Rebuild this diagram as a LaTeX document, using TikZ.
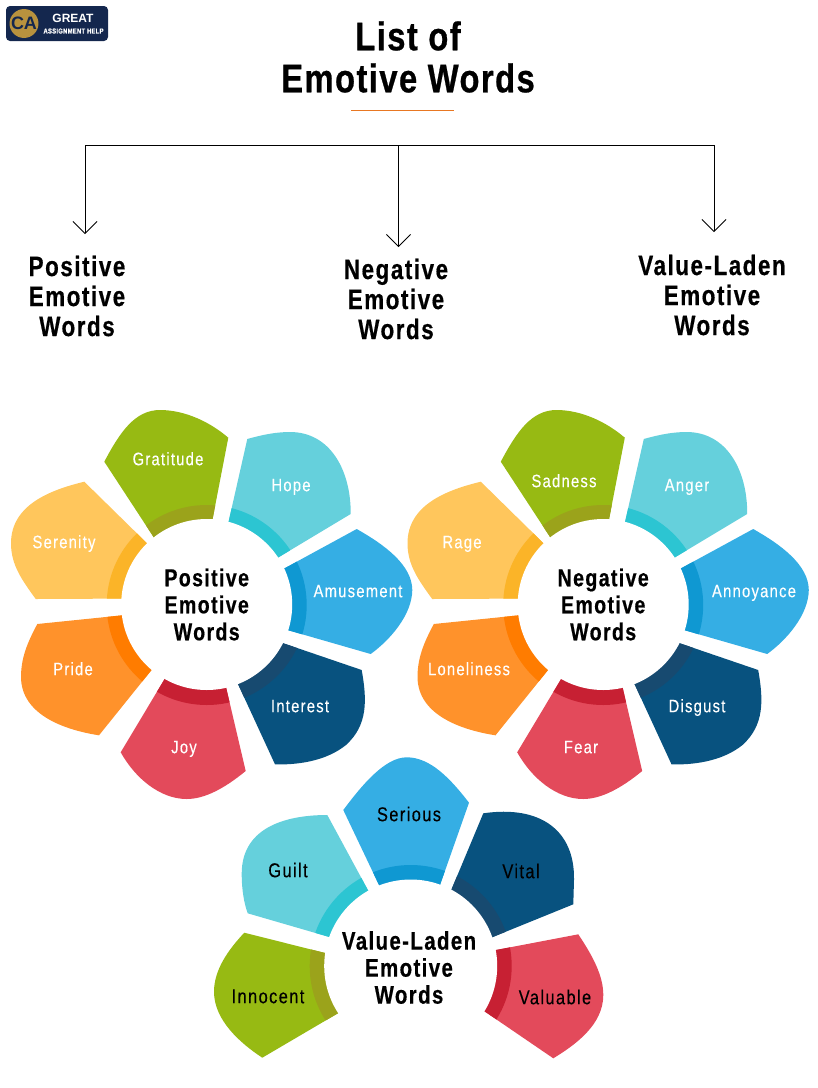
\documentclass[tikz,border=0pt]{standalone}
\usepackage{fontspec}
\usetikzlibrary{arrows.meta, positioning}
\setmainfont{Liberation Sans}
\newfontfamily\titlefont[FakeStretch=0.82,LetterSpace=3.5,FakeBold=0.6]{Liberation Sans Bold}
\newfontfamily\headfont[FakeStretch=0.8,LetterSpace=5.5,FakeBold=0.5]{Liberation Sans Bold}
\newfontfamily\wordfont[FakeStretch=0.82,LetterSpace=7,FakeBold=0.25]{Liberation Sans}
\definecolor{petalgreen}{HTML}{97BA13}
\definecolor{bandgreen}{HTML}{9BA31B}
\definecolor{petalcyan}{HTML}{65D0DC}
\definecolor{bandcyan}{HTML}{2CC5D2}
\definecolor{petalblue}{HTML}{35AEE4}
\definecolor{bandblue}{HTML}{0F98D2}
\definecolor{petalnavy}{HTML}{08527F}
\definecolor{bandnavy}{HTML}{174A70}
\definecolor{petalred}{HTML}{E34A5B}
\definecolor{bandred}{HTML}{C72033}
\definecolor{petalorange}{HTML}{FF922B}
\definecolor{bandorange}{HTML}{FF7C00}
\definecolor{petalyellow}{HTML}{FFC65C}
\definecolor{bandyellow}{HTML}{FBB428}
\definecolor{logonavy}{HTML}{14274E}
\definecolor{logogold}{HTML}{B8923E}
\definecolor{ruleorange}{HTML}{E87722}
% one petal: hub, fill colour, band colour, band radius, outline
\newcommand\petal[5]{%
  \fill[#2] #5;
  \begin{scope}
    \clip #5;
    \fill[#3] (#1) circle (#4pt);
  \end{scope}}
% the seven petals shared by the two upper flowers
\newcommand\sevenpetals[1]{%
  \begin{scope}[xshift=#1pt]
    \coordinate (hub) at (206.7,605);
    \petal{hub}{petalgreen}{bandgreen}{100}{(104.3,461.7) .. controls (120,432) and (135,410) .. (160,410) .. controls (185,410) and (210,422) .. (228.3,437.7) -- (207,548) -- (166,556) -- cycle}
    \petal{hub}{petalcyan}{bandcyan}{100}{(247.3,439) .. controls (265,434) and (278,432) .. (290,432) .. controls (330,432) and (351,470) .. (350.7,514) -- (264,566) -- (224,542) -- cycle}
    \petal{hub}{petalblue}{bandblue}{100}{(356.7,529) .. controls (385,545) and (412,565) .. (412.3,590) .. controls (412,615) and (390,640) .. (370.7,654) -- (270,625) -- (265,579) -- cycle}
    \petal{hub}{petalnavy}{bandnavy}{100}{(361.7,670) .. controls (367,700) and (368,725) .. (346,745) .. controls (325,762) and (295,765) .. (275,764.3) -- (232,671) -- (262,636) -- cycle}
    \petal{hub}{petalred}{bandred}{100}{(245.7,771) .. controls (225,788) and (205,799) .. (186.7,799) .. controls (160,799) and (135,778) .. (120.7,752.3) -- (176,660) -- (222,670) -- cycle}
    \petal{hub}{petalorange}{bandorange}{100}{(99,735.3) .. controls (65,730) and (21,715) .. (21,676.7) .. controls (21,655) and (30,638) .. (37.3,624) -- (145,613) -- (166,652) -- cycle}
    \petal{hub}{petalyellow}{bandyellow}{100}{(35.7,599) .. controls (22,580) and (11,565) .. (11,543.3) .. controls (11,505) and (50,490) .. (84.3,481.7) -- (160,556) -- (145,598.5) -- cycle}
  \end{scope}}

\begin{document}
\begin{tikzpicture}[
    x=1pt, y=-1pt,
    >={Straight Barb[length=12pt,width=24pt]},
    title/.style={align=center, font=\titlefont\fontsize{40}{42}\selectfont},
    heading/.style={align=center, font=\headfont\fontsize{28}{30}\selectfont},
    hubnode/.style={circle, fill=white, minimum size=171pt, inner sep=0pt, align=center, font=\headfont\fontsize{24.5}{27}\selectfont},
    word/.style={font=\wordfont\fontsize{18}{20}\selectfont, text=white, inner sep=0pt, text height=12.4pt, text depth=0pt},
    darkword/.style={word, font=\wordfont\fontsize{20}{22}\selectfont, text=black},
    link/.style={draw=black, line width=0.8pt}
]
\useasboundingbox (0,0) rectangle (818,1088);

% --- Logo ---
\node [fill=logonavy, rounded corners=4pt, minimum width=102pt, minimum height=35pt, inner sep=0pt] (logo) at (57,23.5) {};
\node [circle, fill=logogold, minimum size=28pt, inner sep=0pt, text=logonavy, font=\bfseries\fontsize{18}{18}\selectfont] (logomark) at (24,23.5) {CA};
\node [text=white, font=\bfseries\fontsize{12}{12}\selectfont] (logotop) at (73,18) {GREAT};
\node [text=white, font=\titlefont\fontsize{7.2}{8}\selectfont] (logobottom) at (73.5,31) {ASSIGNMENT HELP};

% --- Title ---
\node [title] (listtitle) at (408,57) {List of\\Emotive Words};
\coordinate (ruleL) at (351,110);
\coordinate (ruleR) at (454,110);
\draw [ruleorange, line width=0.8pt] (ruleL) -- (ruleR);

% --- Headings ---
\node [heading] (posHead) at (77,296) {Positive\\Emotive\\Words};
\node [heading] (negHead) at (396,299) {Negative\\Emotive\\Words};
\node [heading] (valHead) at (712,295) {Value-Laden\\Emotive\\Words};

% --- Arrows ---
\coordinate (busL) at (85,145);
\coordinate (busM) at (398.5,145);
\coordinate (busR) at (714,145);
\coordinate (tipL) at (85,234);
\coordinate (tipM) at (398.5,247);
\coordinate (tipR) at (714,232);
\draw [link] (busL) -- (busR);
\draw [link, ->] (busL) -- (tipL);
\draw [link, ->] (busM) -- (tipM);
\draw [link, ->] (busR) -- (tipR);

% --- Upper flowers ---
\sevenpetals{0}
\sevenpetals{396.5}

\node [hubnode] (posHub) at (206.7,604.5) {Positive\\Emotive\\Words};
\node [hubnode] (negHub) at (603.2,604.5) {Negative\\Emotive\\Words};

\node [word] (gratitude) at (168,459) {Gratitude};
\node [word] (hope) at (291,485) {Hope};
\node [word] (amusement) at (358,591) {Amusement};
\node [word] (interest) at (300,706) {Interest};
\node [word] (joy) at (184,747) {Joy};
\node [word] (pride) at (73,669) {Pride};
\node [word] (serenity) at (64,542) {Serenity};

\node [word] (sadness) at (564,481) {Sadness};
\node [word] (anger) at (687,485) {Anger};
\node [word] (annoyance) at (754,591) {Annoyance};
\node [word] (disgust) at (697,706) {Disgust};
\node [word] (fear) at (581,747) {Fear};
\node [word] (loneliness) at (469,669) {Loneliness};
\node [word] (rage) at (462,542) {Rage};

% --- Lower flower ---
\coordinate (valCentre) at (410.7,966);
\petal{valCentre}{petalblue}{bandblue}{101}{(343.3,810) .. controls (362,785) and (385,757.3) .. (406.7,757.3) .. controls (430,757.3) and (450,778) .. (469,802.7) -- (434,902) -- (389,906) -- cycle}
\petal{valCentre}{petalnavy}{bandnavy}{101}{(483.3,813.3) .. controls (540,805) and (575,830) .. (574,880) -- (573.3,904.3) -- (478,943) -- (445,905) -- cycle}
\petal{valCentre}{petalred}{bandred}{101}{(578.3,934.3) .. controls (592,955) and (603.3,975) .. (603.3,995) .. controls (603.3,1025) and (575,1045) .. (553.3,1058.3) -- (465,998) -- (475,954) -- cycle}
\petal{valCentre}{petalgreen}{bandgreen}{101}{(244.3,932.7) .. controls (228,950) and (214,970) .. (214,991.7) .. controls (214,1020) and (240,1043) .. (262.3,1057.7) -- (352,1005) -- (345,958) -- cycle}
\petal{valCentre}{petalcyan}{bandcyan}{101}{(327.3,815) .. controls (290,815) and (242,825) .. (241.7,873.3) .. controls (241.7,890) and (244,903) .. (247.7,913.3) -- (350,943) -- (376,905) -- cycle}

\node [hubnode, minimum size=173pt] (valHub) at (valCentre) {};
\node [align=center, font=\headfont\fontsize{25.5}{27}\selectfont] (valText) at (409,967.5) {Value-Laden\\Emotive\\Words};

\node [darkword] (serious) at (409,815) {Serious};
\node [darkword] (vital) at (521,872) {Vital};
\node [darkword] (valuable) at (555,998) {Valuable};
\node [darkword] (innocent) at (268,997) {Innocent};
\node [darkword] (guilt) at (288,871) {Guilt};

\end{tikzpicture}
\end{document}
